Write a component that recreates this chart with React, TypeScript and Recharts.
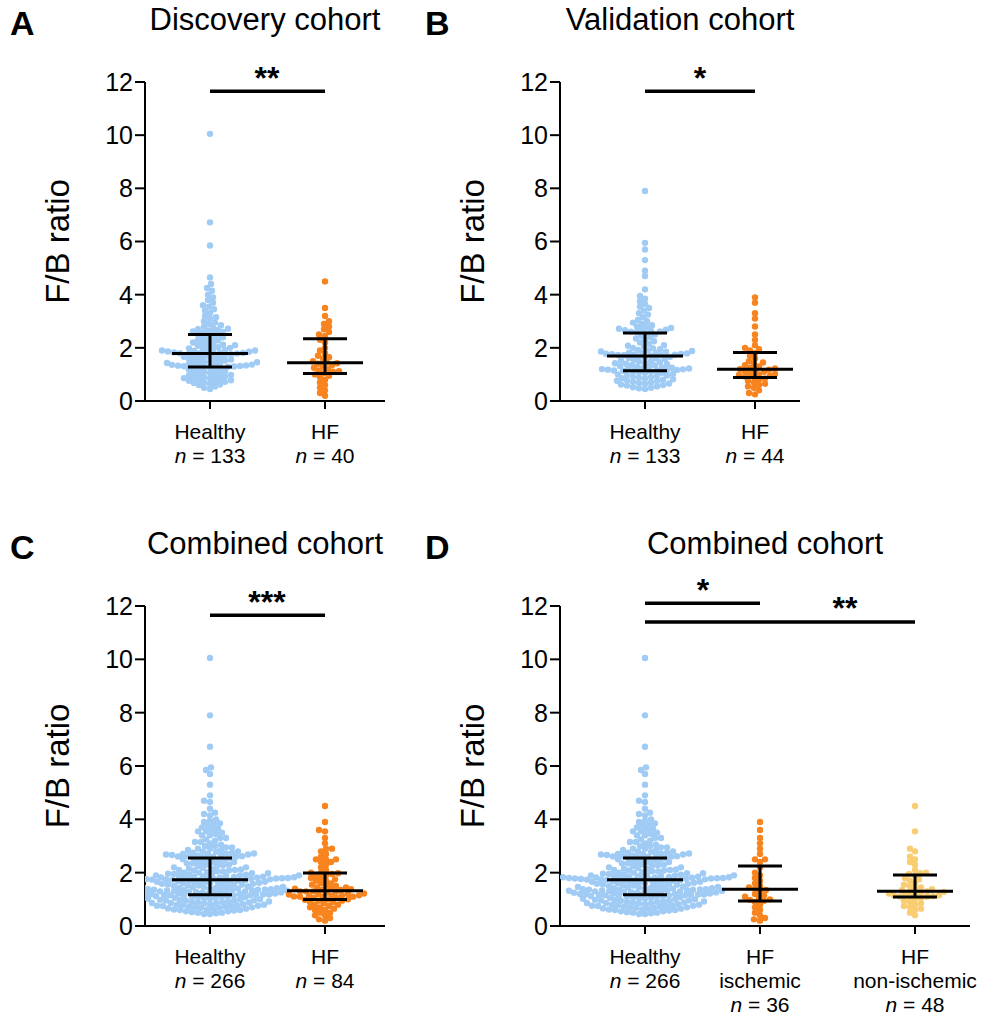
import { ScatterChart, Scatter, XAxis, YAxis, ReferenceLine, ReferenceDot, Label } from 'recharts';

// F/B ratio values read (estimated) from the picture
const healthyDiscovery = [
  10.05, 6.72, 5.85, 4.65, 4.4, 4.25, 4.15, 4.0, 3.9, 3.8, 3.7, 3.6, 3.55, 3.45, 3.4, 3.3, 3.2, 3.15, 3.1, 3.0,
  2.95, 2.9, 2.85, 2.8, 2.75, 2.72, 2.7, 2.68, 2.65, 2.62, 2.6, 2.58, 2.55,
  2.5, 2.48, 2.45, 2.4, 2.38, 2.35, 2.3, 2.28, 2.25, 2.2, 2.18, 2.15, 2.12, 2.1, 2.08, 2.05, 2.02, 2.0, 1.98, 1.96,
  1.95, 1.92, 1.9, 1.9, 1.88, 1.86, 1.85, 1.84, 1.83, 1.82, 1.81, 1.8, 1.8,
  1.79, 1.78, 1.76, 1.75, 1.72, 1.7, 1.68, 1.66, 1.65, 1.62, 1.6, 1.58, 1.56, 1.55, 1.52, 1.5, 1.48, 1.46, 1.45, 1.43,
  1.42, 1.4, 1.38, 1.37, 1.36, 1.35, 1.34, 1.33, 1.32, 1.31, 1.3, 1.3, 1.29, 1.28,
  1.25, 1.22, 1.2, 1.18, 1.15, 1.12, 1.1, 1.08, 1.05, 1.02, 1.0, 0.98, 0.96, 0.95, 0.92, 0.9, 0.88, 0.86, 0.85, 0.82,
  0.8, 0.78, 0.76, 0.75, 0.72, 0.7, 0.68, 0.65, 0.62, 0.6, 0.55, 0.5, 0.45,
];
const healthyValidation = [
  7.9, 5.95, 5.7, 5.3, 4.9, 4.7, 4.2, 3.95, 3.85, 3.75, 3.65, 3.55, 3.5, 3.4, 3.3, 3.25, 3.15, 3.05, 3.0, 2.95,
  2.9, 2.85, 2.8, 2.78, 2.75, 2.72, 2.7, 2.68, 2.66, 2.64, 2.62, 2.61, 2.6,
  2.55, 2.5, 2.45, 2.4, 2.35, 2.3, 2.25, 2.2, 2.15, 2.1, 2.08, 2.05, 2.0, 1.98, 1.95, 1.92, 1.9, 1.88, 1.86, 1.85,
  1.83, 1.82, 1.8, 1.79, 1.78, 1.77, 1.76, 1.75, 1.74, 1.73, 1.72, 1.72,
  1.7, 1.68, 1.66, 1.64, 1.62, 1.6, 1.58, 1.55, 1.52, 1.5, 1.48, 1.46, 1.44, 1.42, 1.4, 1.38, 1.36, 1.34, 1.32, 1.3,
  1.28, 1.26, 1.25, 1.24, 1.22, 1.21, 1.2, 1.19, 1.18, 1.17, 1.16, 1.15, 1.15, 1.14,
  1.12, 1.1, 1.08, 1.06, 1.05, 1.02, 1.0, 0.98, 0.96, 0.95, 0.92, 0.9, 0.88, 0.86, 0.85, 0.82, 0.8, 0.78, 0.76, 0.75,
  0.72, 0.7, 0.68, 0.66, 0.65, 0.62, 0.6, 0.58, 0.55, 0.52, 0.5, 0.48, 0.45,
];
const hfDiscovery = [
  4.5, 3.5, 3.2, 3.0, 2.9, 2.8, 2.7, 2.6, 2.5, 2.45,
  2.3, 2.2, 2.0, 1.9, 1.8, 1.7, 1.65, 1.6, 1.5, 1.45,
  1.42, 1.4, 1.35, 1.3, 1.25, 1.2, 1.15, 1.12, 1.1, 1.05,
  1.0, 0.95, 0.9, 0.8, 0.7, 0.6, 0.5, 0.4, 0.3, 0.2,
];
const hfValidation = [
  3.9, 3.7, 3.3, 3.1, 2.8, 2.5, 2.3, 2.1, 2.0, 1.95, 1.9,
  1.8, 1.7, 1.6, 1.5, 1.45, 1.4, 1.35, 1.3, 1.25, 1.22, 1.2,
  1.18, 1.15, 1.12, 1.1, 1.05, 1.02, 1.0, 0.98, 0.95, 0.92, 0.9,
  0.85, 0.8, 0.75, 0.7, 0.65, 0.6, 0.55, 0.5, 0.4, 0.3, 0.25,
];
const hfIschemic = [
  3.9, 3.6, 3.3, 3.1, 2.9, 2.7, 2.5, 2.5, 2.4,
  2.2, 2.0, 1.9, 1.8, 1.7, 1.6, 1.5, 1.45, 1.4,
  1.35, 1.3, 1.2, 1.15, 1.1, 1.05, 1.0, 0.98, 0.95,
  0.9, 0.8, 0.7, 0.6, 0.5, 0.4, 0.3, 0.25, 0.2,
];
const hfNonIschemic = [
  4.5, 3.55, 2.9, 2.8, 2.6, 2.5, 2.4, 2.3, 2.1, 2.0, 1.98, 1.95,
  1.9, 1.8, 1.75, 1.7, 1.6, 1.55, 1.5, 1.45, 1.4, 1.38, 1.35, 1.3,
  1.3, 1.28, 1.25, 1.22, 1.2, 1.18, 1.15, 1.14, 1.12, 1.11, 1.1, 1.1,
  1.05, 1.0, 0.95, 0.9, 0.85, 0.8, 0.75, 0.7, 0.65, 0.6, 0.5, 0.4,
];
const healthyCombined = [...healthyDiscovery, ...healthyValidation];
const hfCombined = [...hfIschemic, ...hfNonIschemic];

const yTicks = [0, 2, 4, 6, 8, 10, 12];
const BLUE = '#9fcbf4';
const ORANGE = '#f7841e';
const YELLOW = '#f9cd72';
const FONT = 'Liberation Sans, Arial, sans-serif';
const R = 3.2;

function quantile(vals: number[], q: number) {
  const s = [...vals].sort((a, b) => a - b);
  const pos = (s.length - 1) * q;
  const lo = Math.floor(pos);
  const hi = Math.ceil(pos);
  return s[lo] + (s[hi] - s[lo]) * (pos - lo);
}

// beeswarm: place each point at the smallest horizontal offset that does not overlap too much
function swarm(vals: number[], cx: number, pxPerUnit: number) {
  const placed: { ox: number; py: number }[] = [];
  const pts: { x: number; y: number }[] = [];
  const d = 5.3;
  [...vals].sort((a, b) => a - b).forEach((v) => {
    const py = v * pxPerUnit;
    for (let k = 0; k < 400; k++) {
      const ox = (k % 2 === 0 ? 1 : -1) * Math.ceil(k / 2) * 1.0;
      const ok = placed.every((p) => (p.ox - ox) ** 2 + (p.py - py) ** 2 >= d * d);
      if (ok) {
        placed.push({ ox, py });
        pts.push({ x: cx + ox, y: v });
        break;
      }
    }
  });
  return pts;
}

interface Group { label: string[]; n: number; vals: number[]; cx: number; color: string }
interface Sig { x1: number; x2: number; y: number; stars: string; sx: number; sy: number }
interface PanelProps {
  letter: string; title: string; left: number; top: number; plotW: number; plotH: number;
  groups: Group[]; sigs: Sig[];
}

function Panel({ letter, title, left, top, plotW, plotH, groups, sigs }: PanelProps) {
  const yW = 110;
  const mt = 40;
  const ppu = plotH / 12;
  const renderTick = (props: any) => {
    const g = groups.find((gg) => Math.abs(gg.cx - props.payload.value) < 1);
    if (!g) return null;
    return (
      <text x={props.x} y={props.y + 28} textAnchor="middle" fontSize={21} fontFamily={FONT} fill="#000">
        {g.label.map((l, i) => (
          <tspan key={i} x={props.x} dy={i === 0 ? 0 : 24}>{l}</tspan>
        ))}
        <tspan x={props.x} dy={24} fontStyle="italic">n</tspan>
        <tspan> = {g.n}</tspan>
      </text>
    );
  };
  const bars = groups.map((g) => ({
    x: g.cx, y: quantile(g.vals, 0.5), q1: quantile(g.vals, 0.25), q3: quantile(g.vals, 0.75),
  }));
  return (
    <>
      <div style={{ position: 'absolute', left: left - 135, top: top - 78, fontFamily: FONT, fontWeight: 'bold', fontSize: 34 }}>
        {letter}
      </div>
      <div style={{ position: 'absolute', left: left - 20, width: plotW + 40, top: top - 80, textAlign: 'center', fontFamily: FONT, fontSize: 31 }}>
        {title}
      </div>
      <div style={{ position: 'absolute', left: left - yW, top: top - mt }}>
        <ScatterChart width={yW + plotW + 10} height={mt + plotH + 120} margin={{ top: mt, right: 10, left: 0, bottom: 0 }}>
          <XAxis type="number" dataKey="x" domain={[0, plotW]} ticks={groups.map((g) => g.cx)} tick={renderTick}
            interval={0} height={120} axisLine={{ stroke: '#000', strokeWidth: 2 }} tickLine={{ stroke: '#000', strokeWidth: 2 }}
            tickSize={8} allowDataOverflow />
          <YAxis type="number" dataKey="y" domain={[0, 12]} ticks={yTicks} width={yW} interval={0}
            tick={{ fontSize: 25, fill: '#000', fontFamily: FONT }} axisLine={{ stroke: '#000', strokeWidth: 2 }}
            tickLine={{ stroke: '#000', strokeWidth: 2 }} tickSize={10}>
            <Label value="F/B ratio" angle={-90} position="insideLeft" offset={22}
              style={{ fontSize: 33, fill: '#000', fontFamily: FONT, textAnchor: 'middle' }} />
          </YAxis>
          {groups.map((g, i) => (
            <Scatter key={i} data={swarm(g.vals, g.cx, ppu)} fill={g.color} isAnimationActive={false}
              shape={(p: any) => <circle cx={p.cx} cy={p.cy} r={R} fill={g.color} />} />
          ))}
          <Scatter data={bars} isAnimationActive={false}
            shape={(p: any) => {
              const b = p.payload;
              const y1 = p.cy + (b.y - b.q1) * ppu;
              const y3 = p.cy - (b.q3 - b.y) * ppu;
              return (
                <g stroke="#000" strokeWidth={3}>
                  <line x1={p.cx} x2={p.cx} y1={y1} y2={y3} />
                  <line x1={p.cx - 38} x2={p.cx + 38} y1={p.cy} y2={p.cy} />
                  <line x1={p.cx - 22} x2={p.cx + 22} y1={y1} y2={y1} />
                  <line x1={p.cx - 22} x2={p.cx + 22} y1={y3} y2={y3} />
                </g>
              );
            }} />
          {sigs.map((s, i) => [
            <ReferenceLine key={`s${i}`} segment={[{ x: s.x1, y: s.y }, { x: s.x2, y: s.y }]} stroke="#000" strokeWidth={3.5} ifOverflow="visible" />,
            <ReferenceDot key={`t${i}`} x={s.sx} y={s.sy} ifOverflow="visible"
              shape={(p: any) => (
                <text x={p.cx} y={p.cy} textAnchor="middle" fontSize={32} fontWeight="bold" fontFamily={FONT}>{s.stars}</text>
              )} />,
          ])}
        </ScatterChart>
      </div>
    </>
  );
}

export default function App() {
  return (
    <div style={{ position: 'absolute', left: 0, top: 0, width: 981, height: 1017, background: '#fff', overflow: 'hidden' }}>
      <Panel letter="A" title="Discovery cohort" left={145} top={82} plotW={240} plotH={319}
        groups={[
          { label: ['Healthy'], n: 133, vals: healthyDiscovery, cx: 65, color: BLUE },
          { label: ['HF'], n: 40, vals: hfDiscovery, cx: 180, color: ORANGE },
        ]}
        sigs={[{ x1: 65, x2: 180, y: 11.65, stars: '**', sx: 122, sy: 11.75 }]} />
      <Panel letter="B" title="Validation cohort" left={560} top={82} plotW={240} plotH={319}
        groups={[
          { label: ['Healthy'], n: 133, vals: healthyValidation, cx: 85, color: BLUE },
          { label: ['HF'], n: 44, vals: hfValidation, cx: 195, color: ORANGE },
        ]}
        sigs={[{ x1: 85, x2: 195, y: 11.65, stars: '*', sx: 140, sy: 11.75 }]} />
      <Panel letter="C" title="Combined cohort" left={145} top={606} plotW={240} plotH={320}
        groups={[
          { label: ['Healthy'], n: 266, vals: healthyCombined, cx: 65, color: BLUE },
          { label: ['HF'], n: 84, vals: hfCombined, cx: 180, color: ORANGE },
        ]}
        sigs={[{ x1: 65, x2: 180, y: 11.65, stars: '***', sx: 122, sy: 11.75 }]} />
      <Panel letter="D" title="Combined cohort" left={560} top={606} plotW={410} plotH={320}
        groups={[
          { label: ['Healthy'], n: 266, vals: healthyCombined, cx: 85, color: BLUE },
          { label: ['HF', 'ischemic'], n: 36, vals: hfIschemic, cx: 200, color: ORANGE },
          { label: ['HF', 'non-ischemic'], n: 48, vals: hfNonIschemic, cx: 355, color: YELLOW },
        ]}
        sigs={[
          { x1: 85, x2: 200, y: 12.1, stars: '*', sx: 143, sy: 12.2 },
          { x1: 85, x2: 355, y: 11.4, stars: '**', sx: 285, sy: 11.5 },
        ]} />
    </div>
  );
}
